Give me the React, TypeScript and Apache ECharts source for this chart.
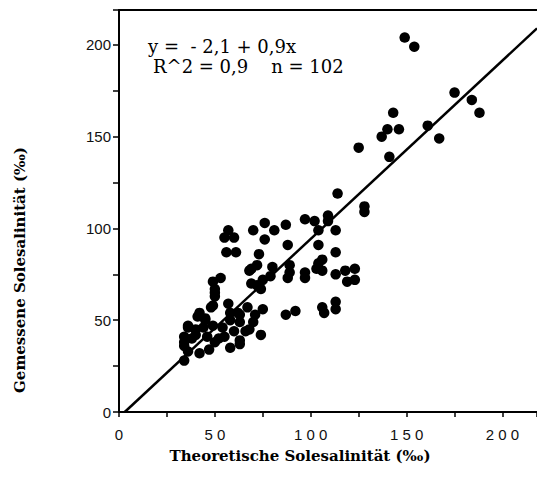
import React, { useEffect, useRef } from "react";
import * as echarts from "echarts";

const xTicks = [0, 50, 100, 150, 200];
const yTicks = [0, 50, 100, 150, 200];

const scatterPoints: [number, number][] = [
  // upper group
  [149, 204], [154, 199], [175, 174], [184, 170], [188, 163], [143, 163],
  [140, 154], [146, 154], [137, 150], [161, 156], [167, 149], [141, 139],
  [128, 112], [128, 109], [125, 144], [114, 119],
  // middle group
  [87, 102], [97, 105], [102, 104], [109, 107], [109, 104], [104, 99],
  [113, 99], [88, 91], [104, 91], [113, 87], [89, 80], [89, 76], [88, 73],
  [97, 76], [97, 73], [104, 81], [103, 78], [106, 83], [106, 77], [113, 75],
  [118, 77], [123, 78], [119, 71], [123, 72],
  [76, 103], [81, 99], [70, 99], [76, 94], [73, 86], [72, 80], [68, 77],
  [80, 79], [79, 74], [75, 72], [72, 69], [74, 67], [87, 53], [92, 55],
  [106, 57], [113, 60], [107, 54], [113, 56], [74, 42],
  // left group
  [57, 99], [55, 95], [60, 95], [56, 87], [61, 87], [69, 78], [53, 73],
  [50, 67], [50, 63], [48, 57], [41, 52], [36, 47], [34, 41], [34, 36],
  [34, 28], [63, 37],
  // dense cluster
  [49, 71], [50, 65], [49, 58], [57, 59], [58, 54], [42, 54], [36, 46],
  [34, 38], [36, 33], [46, 41], [54, 46], [63, 39], [75, 56], [70, 49],
  [63, 49], [67, 57], [69, 70], [49, 47], [47, 34], [58, 35], [42, 32],
  [40, 42], [44, 46], [52, 40], [60, 44], [66, 44], [58, 50], [45, 50],
  [38, 40], [62, 54], [71, 53], [50, 38], [40, 45], [55, 41], [63, 53],
  [68, 45], [45, 51],
];

const regressionLine: [number, number][] = [[3, 0], [218, 209]];

const xTitle = "Theoretische Solesalinität (‰)";
const yTitle = "Gemessene Solesalinität (‰)";
const equationText = "y =  - 2,1 + 0,9x";
const statsText = "R^2 = 0,9    n = 102";

const spaced = (v: number) => String(v).split("").join(" ");

export default function App() {
  const ref = useRef<HTMLDivElement>(null);
  useEffect(() => {
    if (!ref.current) return;
    const chart = echarts.init(ref.current, null, { renderer: "svg" });
    chart.setOption({
      animation: false,
      backgroundColor: "#fff",
      grid: { left: 119, top: 10, right: 0, bottom: 81, containLabel: false, outerBoundsMode: "none" },
      xAxis: [
        {
          type: "value",
          min: 0,
          max: 218,
          interval: 25,
          axisLine: { show: true, onZero: false, lineStyle: { color: "#000", width: 2 } },
          axisTick: { show: true, length: 5, lineStyle: { color: "#000", width: 1.5 } },
          splitLine: { show: false },
          axisLabel: {
            margin: 15,
            color: "#111",
            fontSize: 15,
            fontFamily: "Liberation Sans, Arial, sans-serif",
            formatter: (v: number) => (xTicks.includes(v) ? spaced(v) : ""),
          },
        },
        {
          type: "value",
          position: "top",
          min: 0,
          max: 218,
          axisLine: { show: true, onZero: false, lineStyle: { color: "#000", width: 2 } },
          axisTick: { show: false },
          axisLabel: { show: false },
          splitLine: { show: false },
        },
      ],
      yAxis: {
        type: "value",
        min: 0,
        max: 219,
        interval: 25,
        axisLine: { show: true, onZero: false, lineStyle: { color: "#000", width: 2 } },
        axisTick: { show: true, length: 6, lineStyle: { color: "#000", width: 1.5 } },
        splitLine: { show: false },
        axisLabel: {
          margin: 8,
          color: "#111",
          fontSize: 15,
          fontFamily: "Liberation Sans, Arial, sans-serif",
          formatter: (v: number) => (yTicks.includes(v) ? String(v) : ""),
        },
      },
      series: [
        {
          type: "scatter",
          data: scatterPoints,
          symbol: "circle",
          symbolSize: 10.5,
          itemStyle: { color: "#000", opacity: 1 },
        },
        {
          type: "line",
          data: regressionLine,
          showSymbol: false,
          symbol: "none",
          lineStyle: { color: "#000", width: 2.5 },
        },
      ],
      graphic: [
        {
          type: "text",
          left: 148,
          top: 37,
          style: {
            text: equationText,
            fontFamily: "DejaVu Serif, serif",
            fontSize: 18,
            fill: "#000",
          },
        },
        {
          type: "text",
          left: 153,
          top: 57,
          style: {
            text: statsText,
            fontFamily: "DejaVu Serif, serif",
            fontSize: 18,
            fill: "#000",
          },
        },
        {
          type: "text",
          x: 300,
          y: 456,
          style: {
            text: xTitle,
            fontFamily: "DejaVu Serif, serif",
            fontWeight: "bold",
            fontSize: 15,
            fill: "#000",
            align: "center",
            verticalAlign: "middle",
          },
        },
        {
          type: "text",
          x: 20,
          y: 270,
          rotation: Math.PI / 2,
          style: {
            text: yTitle,
            fontFamily: "DejaVu Serif, serif",
            fontWeight: "bold",
            fontSize: 15,
            fill: "#000",
            align: "center",
            verticalAlign: "middle",
          },
        },
      ],
    });
    return () => chart.dispose();
  }, []);
  return (
    <div
      ref={ref}
      style={{ position: "absolute", left: 0, top: 0, width: 537, height: 493 }}
    />
  );
}
